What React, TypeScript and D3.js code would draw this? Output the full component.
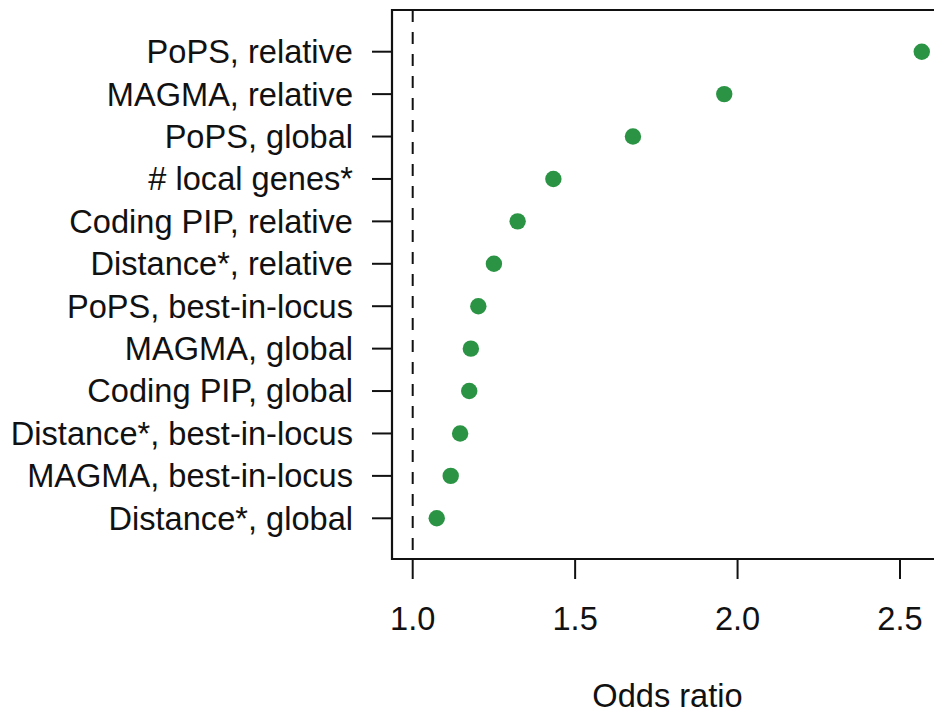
import React from 'react';
import * as d3 from 'd3';

// rows listed from top to bottom
const features = [
  'PoPS, relative',
  'MAGMA, relative',
  'PoPS, global',
  '# local genes*',
  'Coding PIP, relative',
  'Distance*, relative',
  'PoPS, best-in-locus',
  'MAGMA, global',
  'Coding PIP, global',
  'Distance*, best-in-locus',
  'MAGMA, best-in-locus',
  'Distance*, global',
];
const oddsRatios = [2.567, 1.959, 1.678, 1.433, 1.323, 1.25, 1.202, 1.179, 1.174, 1.146, 1.117, 1.074];
const xTicks = [1.0, 1.5, 2.0, 2.5];
const refLine = 1.0;

const W = 934;
const H = 713;
const FONT = '"Liberation Sans", Arial, Helvetica, sans-serif';
const GREEN = '#2a9444';

export default function App() {
  // plot box (right side runs off the picture, like the original crop)
  const box = { left: 392, top: 10, right: 960, bottom: 559 };

  const x = d3.scaleLinear().domain([1.0, 2.5]).range([412.7, 900]);
  // row 1 is the bottom row
  const n = features.length;
  const y = d3.scaleLinear().domain([1, n]).range([518.3, 51.7]);
  const rowY = (i: number) => y(n - i);

  return (
    <svg
      width={W}
      height={H}
      style={{ position: 'absolute', left: 0, top: 0, background: '#fff' }}
      fontFamily={FONT}
    >
      <rect x={0} y={0} width={W} height={H} fill="#fff" />

      {/* reference line at OR = 1 */}
      <line
        x1={x(refLine)}
        x2={x(refLine)}
        y1={box.top}
        y2={box.bottom}
        stroke="#111"
        strokeWidth={2}
        strokeDasharray="12,10"
      />

      {/* points */}
      {oddsRatios.map((v, i) => (
        <circle key={features[i]} cx={x(v)} cy={rowY(i)} r={8.2} fill={GREEN} />
      ))}

      {/* box */}
      <path
        d={`M${box.right},${box.top}H${box.left}V${box.bottom}H${box.right}`}
        fill="none"
        stroke="#111"
        strokeWidth={2.2}
      />

      {/* y axis ticks + labels */}
      {features.map((f, i) => (
        <g key={f}>
          <line x1={372} x2={box.left} y1={rowY(i)} y2={rowY(i)} stroke="#111" strokeWidth={2} />
          <text
            x={353}
            y={rowY(i)}
            dy="0.35em"
            textAnchor="end"
            fontSize={32.6}
            fill="#111"
          >
            {f}
          </text>
        </g>
      ))}

      {/* x axis ticks + labels */}
      {xTicks.map(t => (
        <g key={t}>
          <line x1={x(t)} x2={x(t)} y1={box.bottom} y2={box.bottom + 20} stroke="#111" strokeWidth={2} />
          <text x={x(t)} y={630} textAnchor="middle" fontSize={32.6} fill="#111">
            {d3.format('.1f')(t)}
          </text>
        </g>
      ))}

      <text x={667.5} y={707} textAnchor="middle" fontSize={32.6} fill="#111">
        Odds ratio
      </text>
    </svg>
  );
}
